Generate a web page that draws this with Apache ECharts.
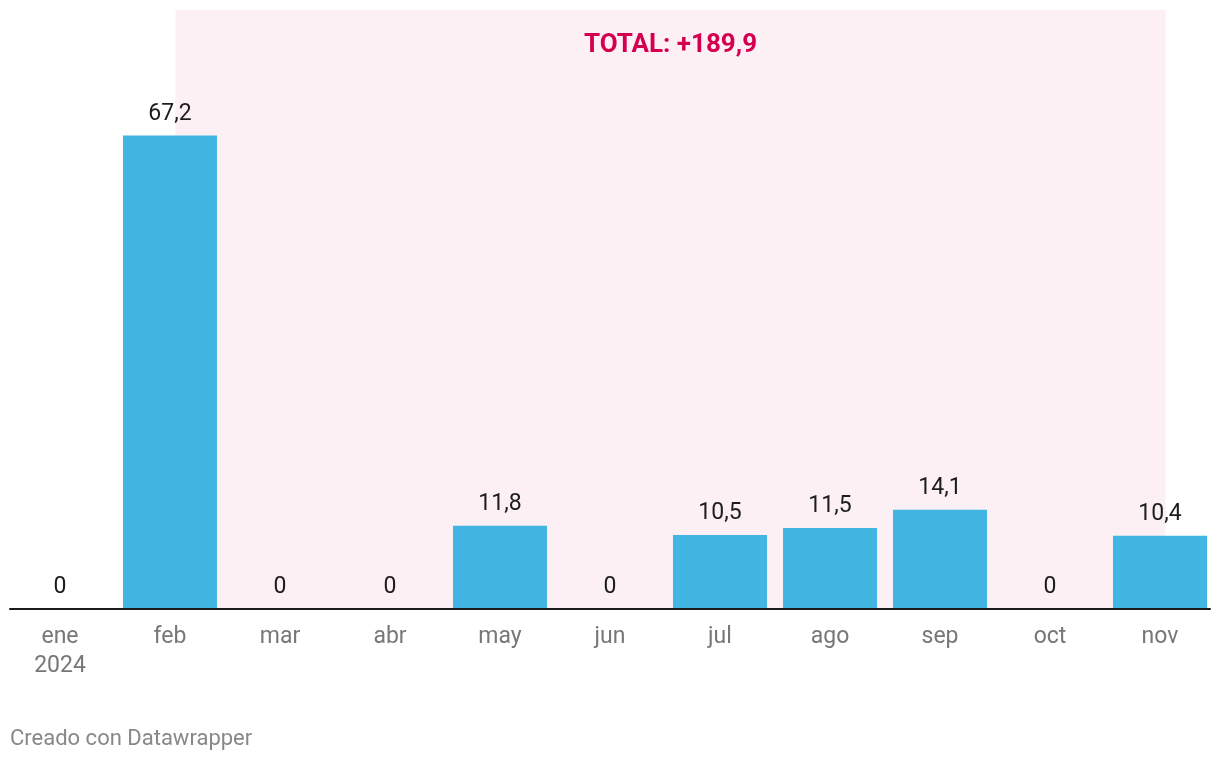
<!DOCTYPE html>
<html>
<head>
<meta charset="utf-8">
<script src="https://cdn.jsdelivr.net/npm/echarts@6/dist/echarts.min.js"></script>
<style>
html,body{margin:0;padding:0;background:#fff;}
#chart{width:1220px;height:762px;}
</style>
</head>
<body>
<div id="chart"></div>
<script>
const categories = ['ene\n2024','feb','mar','abr','may','jun','jul','ago','sep','oct','nov'];
const values = [0, 67.2, 0, 0, 11.8, 0, 10.5, 11.5, 14.1, 0, 10.4];
const highlightStart = 'feb';
const highlightEnd = 'nov';
const totalLabel = 'TOTAL: +189,9';
const footerText = 'Creado con Datawrapper';

const fmt = v => String(v).replace('.', ',');
const idx = name => categories.indexOf(name);
const chart = echarts.init(document.getElementById('chart'), null, {renderer: 'canvas'});
chart.setOption({
  animation: false,
  textStyle: {fontFamily: 'Roboto'},
  grid: [
    {left: 5, right: 5, top: 10, bottom: 153},
    {left: 10, right: 10, top: 10, bottom: 153}
  ],
  xAxis: [
    {
      gridIndex: 0, type: 'category', data: categories,
      axisLine: {show: false}, axisTick: {show: false},
      axisLabel: {color: '#777777', fontSize: 23, lineHeight: 29, margin: 14, fontFamily: 'Roboto'}
    },
    {
      gridIndex: 1, type: 'category', data: categories, position: 'bottom', z: 5,
      axisLine: {show: true, onZero: false, lineStyle: {color: '#1a1a1a', width: 2}},
      axisTick: {show: false}, axisLabel: {show: false}, splitLine: {show: false}
    },
    {
      gridIndex: 0, type: 'value', min: -0.5, max: categories.length - 0.5, show: false
    }
  ],
  yAxis: [
    {gridIndex: 0, type: 'value', min: 0, max: 85, show: false, splitLine: {show: false}},
    {gridIndex: 1, type: 'value', min: 0, max: 1, show: false}
  ],
  series: [{
    type: 'bar',
    xAxisIndex: 0, yAxisIndex: 0,
    data: values,
    barWidth: '85.5%',
    z: 3,
    itemStyle: {color: '#41b6e2'},
    label: {
      show: true, position: 'top', distance: 10,
      color: '#1d1d1d', fontSize: 23, fontFamily: 'Roboto',
      formatter: p => fmt(p.value)
    }
  }, {
    type: 'line',
    xAxisIndex: 2, yAxisIndex: 0,
    data: [],
    z: 1,
    markArea: {
      silent: true,
      itemStyle: {color: '#fcf0f4'},
      label: {
        show: true, position: 'insideTop', distance: 22,
        color: '#d4004f', fontSize: 26, fontWeight: 'bold', fontFamily: 'Roboto',
        formatter: totalLabel
      },
      data: [[{xAxis: idx(highlightStart) + 0.05, y: 10}, {xAxis: idx(highlightEnd) + 0.05, yAxis: 0}]]
    }
  }],
  graphic: [{
    type: 'text', left: 10, top: 728,
    style: {text: footerText, fill: '#888888', fontSize: 22, fontFamily: 'Roboto'}
  }]
});
</script>
</body>
</html>
